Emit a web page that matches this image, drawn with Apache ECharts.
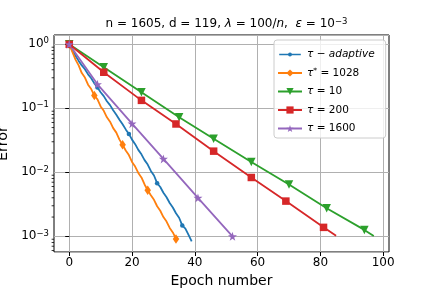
<!DOCTYPE html>
<html>
<head>
<meta charset="utf-8">
<script src="https://cdn.jsdelivr.net/npm/echarts@6/dist/echarts.min.js"></script>
<style>html,body{margin:0;padding:0;background:#fff}#c{width:432px;height:288px}</style>
</head>
<body>
<div id="c"></div>
<script>
// ---- data ----
// tau-adaptive: error per epoch 0..39
const adaptiveErr = [1, 0.794, 0.661, 0.550, 0.468, 0.407, 0.339, 0.295, 0.245, 0.211,
  0.178, 0.155, 0.129, 0.112, 0.0933, 0.0794, 0.0661, 0.0562, 0.0468, 0.0398,
  0.0324, 0.0275, 0.0224, 0.0191, 0.0155, 0.0132, 0.0105, 0.00891, 0.00676, 0.00589,
  0.00479, 0.00407, 0.00331, 0.00282, 0.00229, 0.00195, 0.00148, 0.00132, 0.00105, 0.000832];
const adaptiveMarks = [0, 9, 19, 28, 36];
// tau* = 1028: error per epoch 0..34
const optErr = [1, 0.759, 0.575, 0.468, 0.355, 0.302, 0.234, 0.200, 0.158, 0.138,
  0.107, 0.0912, 0.0724, 0.0617, 0.0490, 0.0417, 0.0324, 0.0269, 0.0219, 0.0186,
  0.0145, 0.0123, 0.00977, 0.00832, 0.00646, 0.00525, 0.00437, 0.00372, 0.00295, 0.00251,
  0.00200, 0.00170, 0.00135, 0.00115, 0.000912];
const optMarks = [0, 8, 17, 25, 34];
// tau = 10
const t10Epochs = [0, 11, 23, 35, 46, 58, 70, 82, 94, 97];
const t10Err = [1, 0.437, 0.178, 0.0724, 0.0335, 0.0145, 0.00646, 0.00275, 0.00126, 0.00101];
const t10Marks = [0, 11, 23, 35, 46, 58, 70, 82, 94];
// tau = 200
const t200Epochs = [0, 11, 23, 34, 46, 58, 69, 81, 85];
const t200Err = [1, 0.366, 0.133, 0.0569, 0.0214, 0.0083, 0.00355, 0.00138, 0.00102];
const t200Marks = [0, 11, 23, 34, 46, 58, 69, 81];
// tau = 1600
const t1600Epochs = [0, 9, 20, 30, 41, 52];
const t1600Err = [1, 0.237, 0.0575, 0.0162, 0.00398, 0.001];
const t1600Marks = [0, 9, 20, 30, 41, 52];

const xTicks = [0, 20, 40, 60, 80, 100];
const minorY = [];
for (let k = -4; k <= 0; k++) for (let m = 2; m <= 9; m++) minorY.push(m * Math.pow(10, k));

const X_MIN = -4.85, X_MAX = 101.85;
const Y_MIN = Math.pow(10, -3.245), Y_MAX = Math.pow(10, 0.145);

function mk(xs, ys, marks) {
  return ys.map((y, i) => {
    const x = xs ? xs[i] : i;
    const d = { value: [x, y] };
    if (marks.indexOf(x) < 0) d.symbol = 'none';
    return d;
  });
}
const STAR = 'path://M0 -1 L0.2245 -0.309 L0.951 -0.309 L0.363 0.118 L0.588 0.809 L0 0.382 L-0.588 0.809 L-0.363 0.118 L-0.951 -0.309 L-0.2245 -0.309 Z';
// legend icon for the small-dot marker: a line with a little dot, in a 24x10 box
const DOT_ICON = 'path://M0 0 L0.01 0 L0 0.01 Z M24 10 L23.99 10 L24 9.99 Z M0 4.1 L24 4.1 L24 5.9 L0 5.9 Z M9.8 5 A2.2 2.2 0 1 1 14.2 5 A2.2 2.2 0 1 1 9.8 5 Z';
const FONT = 'DejaVu Sans';
const colors = ['#1f77b4', '#ff7f0e', '#2ca02c', '#d62728', '#9467bd'];

function lineSeries(name, data, color, symbol, size, rot) {
  return {
    name, type: 'line', data, color,
    symbol, symbolSize: size, symbolRotate: rot || 0, showAllSymbol: true,
    lineStyle: { width: 1.8, color },
    itemStyle: { color, borderWidth: 0 },
    emphasis: { disabled: true }, animation: false
  };
}

const chart = echarts.init(document.getElementById('c'), null, { renderer: 'canvas' });
const legendNames = {
  a: '{m|τ} − {m|adaptive}',
  o: '{m|τ}{sup|*} = 1028',
  t10: '{m|τ} = 10',
  t200: '{m|τ} = 200',
  t1600: '{m|τ} = 1600'
};
chart.setOption({
  animation: false,
  title: {
    text: 'n = 1605, d = 119, {m|λ} = 100/{m|n},  {m|ε} = 10{sup|−3}',
    left: 221.5, textAlign: 'center', top: 12,
    textStyle: {
      fontFamily: FONT, fontSize: 12, fontWeight: 'normal', color: '#000',
      rich: {
        m: { fontFamily: FONT, fontSize: 12, fontStyle: 'italic', color: '#000' },
        sup: { fontFamily: FONT, fontSize: 8.5, verticalAlign: 'top', color: '#000', padding: [0, 0, 5, 0] }
      }
    }
  },
  grid: { left: 54, right: 43, top: 35, bottom: 36, show: true, borderColor: '#000', borderWidth: 1,
    backgroundColor: 'transparent', containLabel: false, outerBoundsMode: 'none' },
  legend: {
    orient: 'vertical', left: 274, top: 40,
    data: [{ name: 'a', icon: DOT_ICON }, 'o', 't10', 't200', 't1600'],
    formatter: n => legendNames[n],
    itemWidth: 24, itemHeight: 9, itemGap: 7.5,
    padding: [9, 11, 4, 3],
    backgroundColor: 'rgba(255,255,255,0.8)', borderColor: '#cccccc', borderWidth: 1, borderRadius: 3,
    textStyle: {
      fontFamily: FONT, fontSize: 10.5, color: '#000',
      rich: {
        m: { fontFamily: FONT, fontSize: 10.5, fontStyle: 'italic', color: '#000' },
        sup: { fontFamily: FONT, fontSize: 7.5, verticalAlign: 'top', color: '#000' }
      }
    }
  },
  xAxis: {
    type: 'value', min: X_MIN, max: X_MAX,
    name: 'Epoch number', nameLocation: 'middle', nameGap: 21,
    nameTextStyle: { fontFamily: FONT, fontSize: 14, color: '#000' },
    axisLine: { show: false },
    axisTick: { show: true, length: 4, lineStyle: { color: '#000' }, customValues: xTicks },
    axisLabel: { fontFamily: FONT, fontSize: 12, color: '#000', margin: 5, customValues: xTicks,
      formatter: v => (xTicks.indexOf(v) >= 0 ? String(v) : '') },
    splitLine: { show: true, lineStyle: { color: '#b0b0b0', width: 1 } }
  },
  yAxis: {
    type: 'log', logBase: 10, min: Y_MIN, max: Y_MAX,
    name: 'Error', nameLocation: 'middle', nameGap: 40, nameRotate: 90,
    nameTextStyle: { fontFamily: FONT, fontSize: 14.4, color: '#000' },
    axisLine: { show: false },
    axisTick: { show: true, length: 4, lineStyle: { color: '#000' } },
    axisLabel: {
      fontFamily: FONT, fontSize: 12, color: '#000', margin: 5, showMinLabel: false, showMaxLabel: false,
      formatter: v => {
        const e = Math.log10(v), r = Math.round(e);
        if (Math.abs(e - r) > 0.01) return '';
        return '10{sup|' + (r === 0 ? '0' : '−' + (-r)) + '}';
      },
      rich: { sup: { fontFamily: FONT, fontSize: 8.5, verticalAlign: 'top', color: '#000', padding: [0, 0, 6, 0] } }
    },
    splitLine: { show: true, lineStyle: { color: '#b0b0b0', width: 1 } }
  },
  series: [
    lineSeries('a', mk(null, adaptiveErr, adaptiveMarks), colors[0], 'circle', 4.5),
    lineSeries('o', mk(null, optErr, optMarks), colors[1], 'diamond', [6.5, 9.5]),
    lineSeries('t10', mk(t10Epochs, t10Err, t10Marks), colors[2], 'triangle', 8.5, 180),
    lineSeries('t200', mk(t200Epochs, t200Err, t200Marks), colors[3], 'rect', 7.5),
    lineSeries('t1600', mk(t1600Epochs, t1600Err, t1600Marks), colors[4], STAR, 9),
    {
      name: 'minor', type: 'custom', silent: true, clip: false, animation: false,
      data: minorY.filter(v => v > Y_MIN && v < Y_MAX).map(v => [X_MIN, v]),
      renderItem: (params, api) => {
        const p = api.coord([api.value(0), api.value(1)]);
        return { type: 'line', shape: { x1: p[0] - 2.4, y1: p[1], x2: p[0], y2: p[1] }, style: { stroke: '#000', lineWidth: 0.8 } };
      }
    }
  ]
});
</script>
</body>
</html>
